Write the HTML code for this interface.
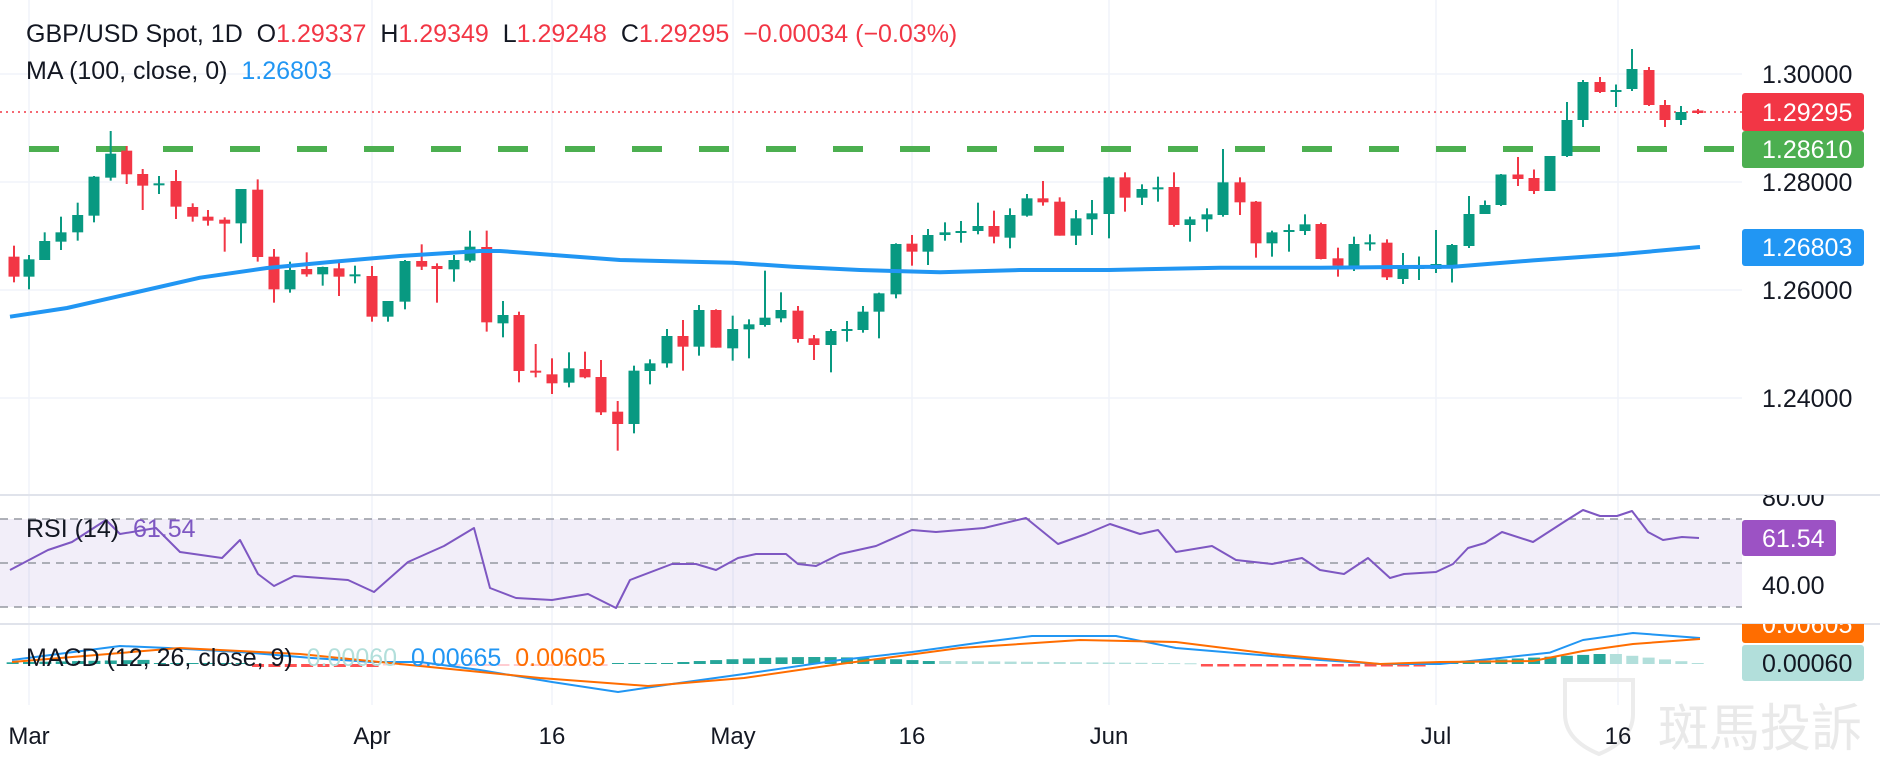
<!DOCTYPE html>
<html><head><meta charset="utf-8"><style>
html,body{margin:0;padding:0;background:#fff;}
body{width:1880px;height:766px;overflow:hidden;position:relative;font-family:"Liberation Sans","Noto Sans CJK SC",sans-serif;}
svg{position:absolute;left:0;top:0;}
.t{font-family:"Liberation Sans",sans-serif;}
</style></head><body>
<svg id="s" width="1880" height="766" xmlns="http://www.w3.org/2000/svg">
<g id="grid" stroke="#f0f3fa" stroke-width="1.5">
<line x1="0" y1="74" x2="1742" y2="74"/><line x1="0" y1="182" x2="1742" y2="182"/>
<line x1="0" y1="290" x2="1742" y2="290"/><line x1="0" y1="398" x2="1742" y2="398"/>
<line x1="29" y1="0" x2="29" y2="705"/><line x1="372" y1="0" x2="372" y2="705"/>
<line x1="552" y1="0" x2="552" y2="705"/><line x1="733" y1="0" x2="733" y2="705"/>
<line x1="912" y1="0" x2="912" y2="705"/><line x1="1109" y1="0" x2="1109" y2="705"/>
<line x1="1436" y1="0" x2="1436" y2="705"/><line x1="1618" y1="0" x2="1618" y2="705"/>
</g>
<line x1="0" y1="495" x2="1880" y2="495" stroke="#e0e3eb" stroke-width="2"/>
<line x1="0" y1="624" x2="1880" y2="624" stroke="#e0e3eb" stroke-width="2"/>
<!-- watermark -->
<text x="1658" y="746" font-size="51" fill="#e9e9e9" font-family="Noto Sans CJK TC,sans-serif">斑馬投訴</text>
<path d="M1565 680 h68 v34 q0 26 -34 40 q-34 -14 -34 -40z" fill="none" stroke="#ececec" stroke-width="4"/>
<!-- RSI band -->
<rect x="0" y="519" width="1742" height="88" fill="#7e57c2" fill-opacity="0.1"/>
<g stroke="#9598a1" stroke-width="1.5" stroke-dasharray="8,6">
<line x1="0" y1="519" x2="1742" y2="519"/><line x1="0" y1="563" x2="1742" y2="563"/><line x1="0" y1="607" x2="1742" y2="607"/>
</g>
<line x1="0" y1="112" x2="1742" y2="112" stroke="#f23645" stroke-width="1.5" stroke-dasharray="2,4"/>
<line x1="29" y1="149" x2="1742" y2="149" stroke="#4caf50" stroke-width="6" stroke-dasharray="30,37"/>
<g id="hist"></g>
<g id="candles"></g>
<polyline id="ma" fill="none" stroke="#2196f3" stroke-width="4" stroke-linejoin="round" points="10,316.7 67,308 133,293 200,277.7 267,268 333,261.7 400,256 480,251 500,251 620,260 733,262.7 793,266.7 860,270 940,272.3 1020,270 1109,270 1220,267.7 1320,267.7 1400,267 1453,266.8 1533,260.4 1617,254.5 1700,247"/>
<polyline fill="none" stroke="#7e57c2" stroke-width="2" stroke-linejoin="round" points="10,570 48,550 72,542 106,520 120,534 156,528 180,552 222,558 240,540 258,574 274,586 294,576 348,580 374,592 408,562 444,546 474,528 490,588 516,598 552,600 588,594 616,608 630,580 672,564 696,564 716,570 738,558 756,554 786,554 798,564 816,566 840,554 876,546 912,530 936,532 984,528 1026,518 1058,544 1086,534 1110,524 1140,534 1158,530 1176,552 1212,546 1236,560 1272,564 1302,558 1320,570 1344,574 1368,558 1390,578 1404,574 1436,572 1453,564 1468,548 1485,543 1502,532 1533,542 1567,520 1583,510 1600,516 1617,516 1632,511 1648,532 1663,540 1682,537 1699,538"/>
<polyline fill="none" stroke="#2196f3" stroke-width="2" stroke-linejoin="round" points="12,660 120,646 168,648 240,652 312,658 372,662 420,662 480,670 552,682 618,692 672,684 744,674 840,660 912,652 984,642 1032,636 1116,636 1176,648 1248,654 1320,660 1380,664 1440,664 1500,658 1550,652.6 1583,640 1633,633 1700,638"/>
<polyline fill="none" stroke="#ff6d00" stroke-width="2" stroke-linejoin="round" points="12,662 180,648 300,654 420,666 540,678 648,686 744,678 840,664 960,648 1080,640 1176,642 1272,654 1380,664 1440,662 1533,661 1583,651 1633,644 1700,639"/>
<!-- header -->
<text class="t" x="26" y="42" font-size="25" fill="#131722">GBP/USD Spot, 1D&#160; O<tspan fill="#f23645">1.29337</tspan>&#160; H<tspan fill="#f23645">1.29349</tspan>&#160; L<tspan fill="#f23645">1.29248</tspan>&#160; C<tspan fill="#f23645">1.29295</tspan>&#160; <tspan fill="#f23645">−0.00034 (−0.03%)</tspan></text>
<text class="t" x="26" y="79" font-size="25" fill="#131722">MA (100, close, 0)&#160; <tspan fill="#2196f3">1.26803</tspan></text>
<text class="t" x="26" y="537" font-size="25" fill="#131722">RSI (14)&#160; <tspan fill="#7e57c2">61.54</tspan></text>
<text class="t" x="26" y="666" font-size="25" fill="#131722">MACD (12, 26, close, 9)&#160; <tspan fill="#b2dfdb">0.00060</tspan>&#160; <tspan fill="#2196f3">0.00665</tspan>&#160; <tspan fill="#ff6d00">0.00605</tspan></text>
<!-- right axis -->
<g class="t" font-size="25" fill="#131722">
<text x="1762" y="83">1.30000</text><text x="1762" y="191">1.28000</text>
<text x="1762" y="299">1.26000</text><text x="1762" y="407">1.24000</text>
<text x="1762" y="594">40.00</text>
</g>
<svg x="0" y="495" width="1880" height="129" overflow="hidden"><text class="t" x="1762" y="11" font-size="25" fill="#131722">80.00</text></svg>
<rect x="1742" y="93" width="122" height="38" rx="3" fill="#f23645"/>
<text class="t" x="1762" y="121" font-size="25" fill="#fff">1.29295</text>
<rect x="1742" y="131" width="122" height="37" rx="3" fill="#4caf50"/>
<text class="t" x="1762" y="158" font-size="25" fill="#fff">1.28610</text>
<rect x="1742" y="229" width="122" height="37" rx="3" fill="#2196f3"/>
<text class="t" x="1762" y="256" font-size="25" fill="#fff">1.26803</text>
<rect x="1742" y="520" width="94" height="36" rx="3" fill="#9c52c4"/>
<text class="t" x="1762" y="547" font-size="25" fill="#fff">61.54</text>
<svg x="0" y="624" width="1880" height="30" overflow="hidden">
<rect x="1742" y="-18" width="122" height="37" rx="3" fill="#ff6d00"/>
<text class="t" x="1762" y="9" font-size="25" fill="#fff">0.00605</text></svg>
<rect x="1742" y="645" width="122" height="36" rx="3" fill="#b2dfdb"/>
<text class="t" x="1762" y="672" font-size="25" fill="#131722">0.00060</text>
<!-- x axis -->
<g class="t" font-size="24" fill="#131722" text-anchor="middle">
<text x="29" y="744">Mar</text><text x="372" y="744">Apr</text><text x="552" y="744">16</text>
<text x="733" y="744">May</text><text x="912" y="744">16</text><text x="1109" y="744">Jun</text>
<text x="1436" y="744">Jul</text><text x="1618" y="744">16</text>
</g>
</svg>
<script>
var NS="http://www.w3.org/2000/svg";
var Z=[[14,377,410,470,487,'r'],[29,405,418,470,508,'g'],[44.7,337,363,420,420,'g'],[61,290,337,365,390,'g'],[77.7,248,285,337,362,'g'],[94,168,170,287,307,'g'],[110.7,33,101,173,182,'g'],[126.7,78,92,163,192,'r'],[142.7,147,162,197,270,'r'],[159,168,190,195,222,'g'],[176,150,183,260,297,'r'],[192.7,250,261,290,305,'r'],[208,270,290,302,317,'r'],[224.7,292,299,311,395,'r'],[241,207,207,310,370,'g'],[257.7,178,209,411,425,'r'],[274,387,410,508,548,'r'],[290,425,450,508,518,'g'],[306.7,397,447,463,470,'r'],[322.7,440,441,463,497,'g'],[339,420,445,470,528,'r'],[355,437,463,467,490,'g'],[372,438,468,590,605,'r'],[388,543,543,590,605,'g'],[405,420,423,545,568,'g'],[421.7,373,423,440,450,'r'],[437,430,438,447,548,'r'],[454,405,420,448,485,'g'],[470,332,380,422,427,'g'],
[486.7,332,381,607,635,'r'],[503,543,585,610,652,'g'],[519,575,585,753,787,'r'],[535.7,672,752,758,772,'r'],[552,715,763,790,822,'r'],[569,697,745,788,802,'g'],[585,695,747,772,775,'r'],[601,720,771,877,885,'r'],[617.7,843,875,912,992,'r'],[634,737,752,912,940,'g'],[650,718,730,753,793,'g'],[667,627,648,730,743,'g'],[683,600,648,680,752,'r'],[699,555,570,680,707,'g'],[716,568,570,683,683,'r'],[732.7,587,627,685,722,'g'],[749,598,613,628,715,'g'],[765,452,593,615,620,'g'],[781,517,570,595,607,'g'],[798,558,572,657,668,'r'],[814,645,655,675,720,'r'],[831,627,633,675,757,'g'],[847,603,627,630,665,'g'],[863,558,575,630,638,'g'],[879,518,520,575,655,'g'],[896,370,372,523,535,'g'],[912,345,371,395,437,'r'],[928,327,345,395,435,'g'],
[945,307,337,345,362,'g'],[961,303,333,337,368,'g'],[978,248,318,333,343,'g'],[994,272,318,350,370,'r'],[1010,265,285,353,385,'g'],[1027,222,235,287,290,'g'],[1043,183,235,247,257,'r'],[1059.7,232,245,347,347,'r'],[1076,270,295,347,375,'g'],[1092,240,280,298,345,'g'],[1109,170,172,282,355,'g'],[1125,157,172,233,275,'r'],[1142,193,207,233,255,'g'],[1158,170,202,206,245,'g'],[1174,157,201,315,320,'r'],[1190,290,298,315,365,'g'],[1207,265,283,298,335,'g'],[1223,87,187,285,290,'g'],[1240,172,187,247,285,'r'],[1256,243,245,370,413,'r'],[1272,332,337,370,410,'g'],[1289,313,330,335,395,'g'],[1305,283,313,333,345,'g'],[1321,308,312,417,418,'r'],[1338,383,415,437,470,'r'],[1354,350,372,437,453,'g'],[1370,343,367,371,392,'g'],[1387,358,368,472,480,'r']];
var R=[[1403,253,267,279,284,'g'],[1419,256.5,267,269,280,'g'],[1436,230,264,269,273,'g'],[1452,244,245,265,282.5,'g'],[1469,196,214,246,248,'g'],[1485,200.5,205,214,214,'g'],[1501,174,174.5,205,206,'g'],[1518,157,174.5,179,186,'r'],[1534,169.5,178,191,194,'r'],[1550,156,156,191,191,'g'],[1567,102,120,156,157,'g'],[1583,80,82,120,127,'g'],[1600,77,82,92,93,'r'],[1616,84.5,90,91.5,107,'g'],[1632,49,69,89,91,'g'],[1649,67,70,105,106,'r'],[1665,100,105,120,127,'r'],[1681,106,112,120,125,'g'],[1698,109,110.5,113,114,'r']];
var all=Z.map(function(d){return [d[0],120+d[1]/3,120+d[2]/3,120+d[3]/3,120+d[4]/3,d[5]];}).concat(R);
var g=document.getElementById('candles');
function el(n,a,p){var e=document.createElementNS(NS,n);for(var k in a)e.setAttribute(k,a[k]);p.appendChild(e);return e;}
all.forEach(function(d){var col=d[5]=='g'?'#089981':'#f23645';
el('line',{x1:d[0],x2:d[0],y1:d[1],y2:d[4],stroke:col,'stroke-width':2},g);
var h=Math.max(d[3]-d[2],2);el('rect',{x:d[0]-5.5,y:d[2],width:11,height:h,fill:col},g);});
var hg=document.getElementById('hist');
for(var k=-1;k<=102;k++){var x=29+16.36*k;var v;
 if(k<8)v=2+k*0.3;else if(k<14)v=1;else if(k<22)v=-3;else if(k<26)v=-1.5;else if(k<36)v=-2;else if(k<40)v=1;else if(k<56)v=2+Math.sin((k-40)/16*Math.PI)*5;else if(k<72)v=3-(k-56)*0.15;else if(k<86)v=-2.5;else if(k<97)v=1+(k-86)*0.9;else v=10-(k-97)*1.8;
 var col;if(v>=0){col=(k>=56&&k<72)||k>=97?'#b2dfdb':'#26a69a';}else{col=(k>=22&&k<40)?'#ffcdd2':'#ff5252';}
 var y=v>=0?664-v:664;el('rect',{x:x-6,y:y,width:12,height:Math.max(Math.abs(v),1),fill:col},hg);}
</script>
</body></html>
